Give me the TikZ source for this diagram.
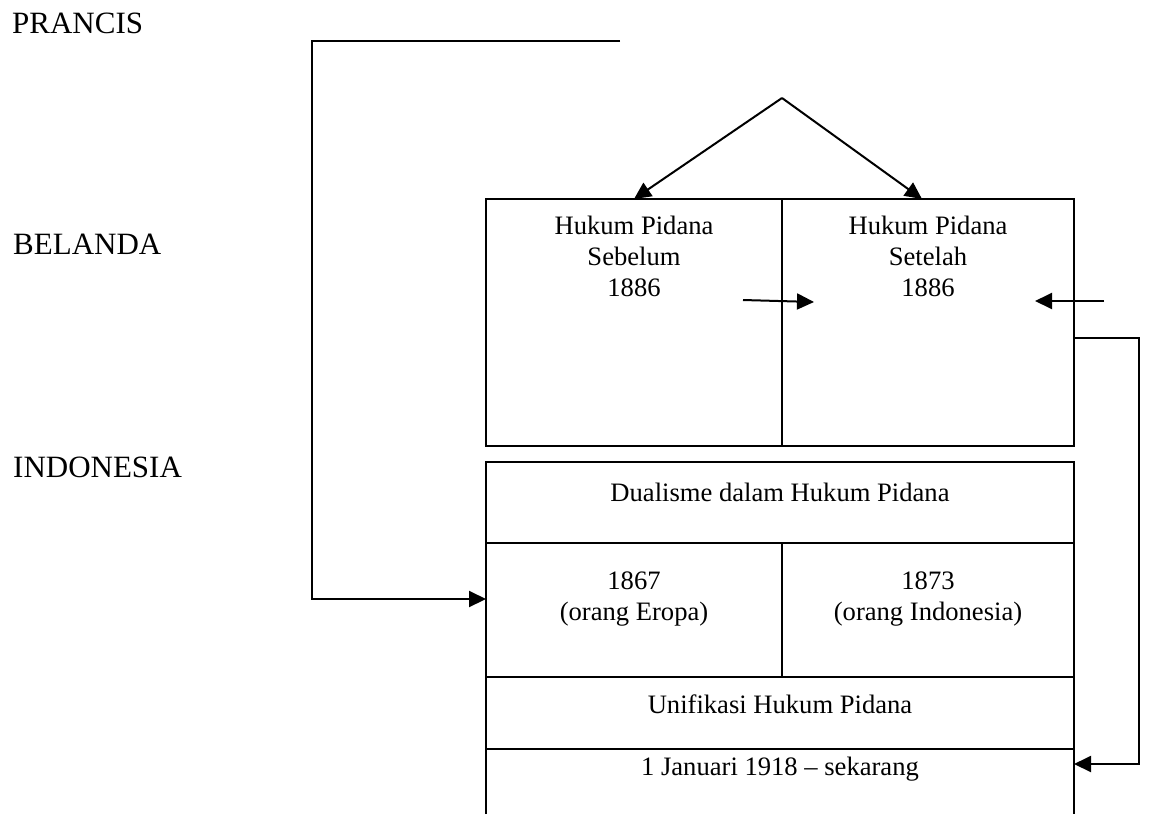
\documentclass[tikz,border=0pt]{standalone}
\usepackage{fontspec}
\setmainfont{Liberation Serif}
\usetikzlibrary{arrows.meta}
\begin{document}
\begin{tikzpicture}[x=1pt,y=-1pt]
			\tikzstyle{garis}=[line width=2pt]
			\tikzstyle{panah}=[garis,-{Triangle[length=17pt,width=16pt]}]
			\tikzstyle{kotak}=[draw,line width=2pt,inner sep=0pt,outer sep=0pt]
			\tikzstyle{tulisan}=[align=center,anchor=north,inner sep=0pt,font=\fontsize{26.6}{31}\selectfont]
			\tikzstyle{negara}=[anchor=base west,inner sep=0pt,font=\fontsize{31}{36}\selectfont]
			\def\KolomKiri{634}
			\def\KolomKanan{928}
			\def\KolomTengah{780}
			\useasboundingbox (0,0) rectangle (1155,814);
			% label negara
			\node[negara] (prancis) at (12,33) {PRANCIS};
			\node[negara] (belanda) at (13,254) {BELANDA};
			\node[negara] (indonesia) at (13,477) {INDONESIA};
			% kotak Belanda
			\node[kotak,minimum width=296pt,minimum height=247pt] (sebelum) at (\KolomKiri,322.5) {};
			\node[kotak,minimum width=292pt,minimum height=247pt] (setelah) at (\KolomKanan,322.5) {};
			\node[tulisan] (tSebelum) at (\KolomKiri,216) {Hukum Pidana\\Sebelum\\1886};
			\node[tulisan] (tSetelah) at (\KolomKanan,216) {Hukum Pidana\\Setelah\\1886};
			% kotak Indonesia
			\node[kotak,minimum width=588pt,minimum height=81pt] (dualisme) at (\KolomTengah,502.5) {};
			\node[kotak,minimum width=296pt,minimum height=134pt] (eropa) at (\KolomKiri,610) {};
			\node[kotak,minimum width=292pt,minimum height=134pt] (pribumi) at (\KolomKanan,610) {};
			\node[kotak,minimum width=588pt,minimum height=72pt] (unifikasi) at (\KolomTengah,713) {};
			\draw[garis] (486,814) -- (486,749) -- (1074,749) -- (1074,814);
			\node[tulisan] (tDualisme) at (\KolomTengah,483) {Dualisme dalam Hukum Pidana};
			\node[tulisan] (tEropa) at (\KolomKiri,572) {1867\\(orang Eropa)};
			\node[tulisan] (tPribumi) at (\KolomKanan,572) {1873\\(orang Indonesia)};
			\node[tulisan] (tUnifikasi) at (\KolomTengah,695) {Unifikasi Hukum Pidana};
			\node[tulisan] (tSekarang) at (\KolomTengah,757) {1 Januari 1918 -- sekarang};
			% titik bantu
			\coordinate (puncak) at (782,98);
			\coordinate (tujuanKiri) at (634,199);
			\coordinate (tujuanKanan) at (922,199);
			\coordinate (awalPrancis) at (620,41);
			\coordinate (belokKiri) at (312,599);
			\coordinate (masukEropa) at (486,599);
			\coordinate (awalTengah) at (743,300);
			\coordinate (akhirTengah) at (814,302);
			\coordinate (awalKanan) at (1104,301);
			\coordinate (akhirKanan) at (1035,301);
			\coordinate (keluarSetelah) at (1074,338);
			\coordinate (belokKanan) at (1139,764);
			\coordinate (masukSekarang) at (1074,764);
			% panah
			\draw[panah] (puncak)--(tujuanKiri);
			\draw[panah] (puncak)--(tujuanKanan);
			\draw[panah] (awalPrancis) -| (belokKiri) -- (masukEropa);
			\draw[panah] (awalTengah)--(akhirTengah);
			\draw[panah] (awalKanan)--(akhirKanan);
			\draw[panah] (keluarSetelah) -| (belokKanan) -- (masukSekarang);
		\end{tikzpicture}
\end{document}
